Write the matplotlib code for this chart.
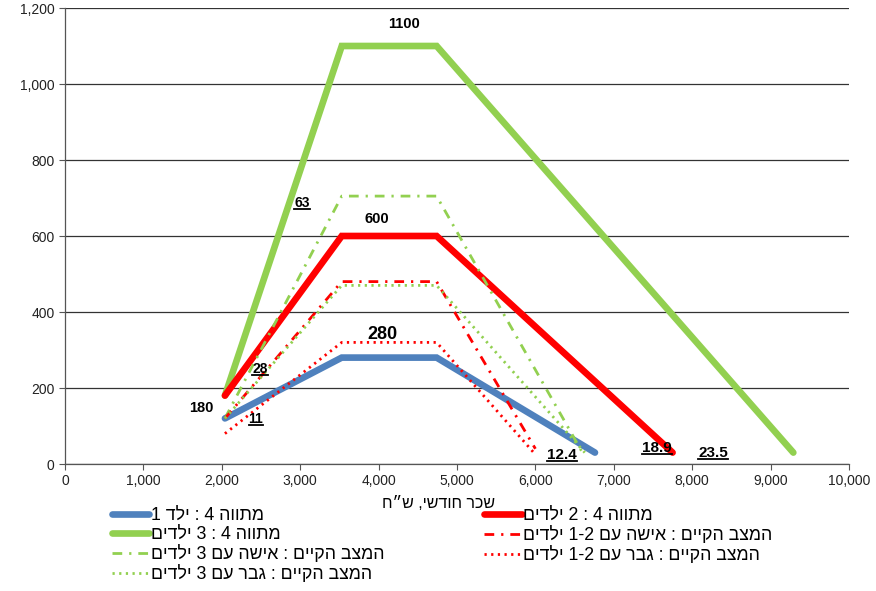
import re
import matplotlib
matplotlib.use("Agg")
import matplotlib.pyplot as plt
from matplotlib.lines import Line2D
from matplotlib.ticker import FuncFormatter, MultipleLocator

plt.rcParams['font.family'] = ['Liberation Sans', 'DejaVu Sans']


def rtl(s):
    """Visual order for a right-to-left string (numbers keep their order)."""
    rev = s[::-1]
    return re.sub(r'[0-9][0-9,.\-]*[0-9]|[0-9]', lambda m: m.group(0)[::-1], rev)


# Monthly wage breakpoints (NIS) and grant amounts for each scheme
x_one_child = [2040, 3530, 4740, 6760]
y_one_child = [120, 280, 280, 30]

x_two_children = [2040, 3530, 4740, 7750]
y_two_children = [180, 600, 600, 30]

x_three_children = [2040, 3530, 4740, 9290]
y_three_children = [180, 1100, 1100, 30]

x_woman_3 = [2040, 3530, 4740, 6600]
y_woman_3 = [120, 705, 705, 30]

x_woman_12 = [2040, 3530, 4740, 6000]
y_woman_12 = [120, 480, 480, 40]

x_man_12 = [2040, 3530, 4740, 6000]
y_man_12 = [80, 320, 320, 25]

x_man_3 = [2040, 3530, 4740, 6630]
y_man_3 = [120, 470, 470, 30]

labels = [
    "מתווה 4 : ילד 1",
    "מתווה 4 : 2 ילדים",
    "מתווה 4 : 3 ילדים",
    "המצב הקיים : אישה עם 1-2 ילדים",
    "המצב הקיים : אישה עם 3 ילדים",
    "המצב הקיים : גבר עם 1-2 ילדים",
    "המצב הקיים : גבר עם 3 ילדים",
]
x_title = "שכר חודשי, ש״ח"

# value labels: (text, x, baseline y, size, underlined)
value_labels = [
    ("1100", 4324, 1147, 10.5, False),
    ("600", 3980, 634, 10.5, False),
    ("280", 4050, 329, 13, False),
    ("180", 1735, 137, 10.5, False),
    ("63", 3023, 676, 10, True),
    ("28", 2487, 239, 10, True),
    ("11", 2436, 108, 10, True),
    ("12.4", 6339, 13, 11, True),
    ("18.9", 7551, 32, 11, True),
    ("23.5", 8265, 18, 11, True),
]

BLUE = "#4F81BD"
RED = "#FF0000"
GREEN = "#92D050"

fig = plt.figure(figsize=(8.76, 5.91), dpi=100)
ax = fig.add_axes([65 / 876, 1 - 464 / 591, (849 - 65) / 876, (464 - 8) / 591])

thick = dict(lw=4.8, solid_capstyle='round', solid_joinstyle='miter')
h_blue, = ax.plot(x_one_child, y_one_child, color=BLUE, zorder=3, **thick)
h_red, = ax.plot(x_two_children, y_two_children, color=RED, zorder=3, **thick)
h_green, = ax.plot(x_three_children, y_three_children, color=GREEN, zorder=2, **thick)

dashdot = (0, (3.5, 2.5, 0.8, 2.5))
dotted = (0, (0.8, 1.6))
h_w3, = ax.plot(x_woman_3, y_woman_3, color=GREEN, lw=2, linestyle=dashdot, zorder=4)
h_w12, = ax.plot(x_woman_12, y_woman_12, color=RED, lw=2, linestyle=dashdot, zorder=4)
h_m12, = ax.plot(x_man_12, y_man_12, color=RED, lw=2, linestyle=dotted, zorder=4)
h_m3, = ax.plot(x_man_3, y_man_3, color=GREEN, lw=2, linestyle=dotted, zorder=4)

ax.set_xlim(0, 10000)
ax.set_ylim(0, 1200)
ax.xaxis.set_major_locator(MultipleLocator(1000))
ax.yaxis.set_major_locator(MultipleLocator(200))
fmt = FuncFormatter(lambda v, p: f"{int(v):,}")
ax.xaxis.set_major_formatter(fmt)
ax.yaxis.set_major_formatter(fmt)
ax.tick_params(axis='both', direction='out', length=4, width=0.8, color='#555555',
               labelsize=10, labelcolor='#222222')
ax.grid(axis='y', color='#333333', lw=0.9)
ax.set_axisbelow(True)
for side in ('right', 'top'):
    ax.spines[side].set_visible(False)
for side in ('left', 'bottom'):
    ax.spines[side].set_color('#555555')
    ax.spines[side].set_linewidth(0.9)

fig.text(438 / 876, 1 - 503 / 591, rtl(x_title), ha='center', va='center', fontsize=11.5)

texts = []
for txt, x, y, size, ul in value_labels:
    t = ax.text(x, y, txt, ha='center', va='baseline', fontsize=size, fontweight='bold',
                zorder=6)
    texts.append((t, ul))

handles = [h_blue, h_green, h_w3, h_m3, h_red, h_w12, h_m12]
order = [0, 2, 4, 6, 1, 3, 5]
leg = fig.legend(handles, [rtl(labels[i]) for i in order], ncol=2,
                 loc='upper left', bbox_to_anchor=(112 / 876, 1 - 507 / 591),
                 frameon=False, fontsize=12.8, handlelength=2.1,
                 columnspacing=5.6, labelspacing=0.12, handletextpad=0.1,
                 borderaxespad=0, borderpad=0)

# underline the marked labels just below their baseline
fig.canvas.draw()
renderer = fig.canvas.get_renderer()
for t, ul in texts:
    if not ul:
        continue
    bb = t.get_window_extent(renderer)
    base_px = ax.transData.transform((0, t.get_position()[1]))[1]
    y0 = base_px - 2.0
    fig.add_artist(Line2D([bb.x0 / fig.bbox.width, bb.x1 / fig.bbox.width],
                          [y0 / fig.bbox.height, y0 / fig.bbox.height],
                          transform=fig.transFigure, color='black', lw=1.3))

fig.savefig("out.png", dpi=100)
